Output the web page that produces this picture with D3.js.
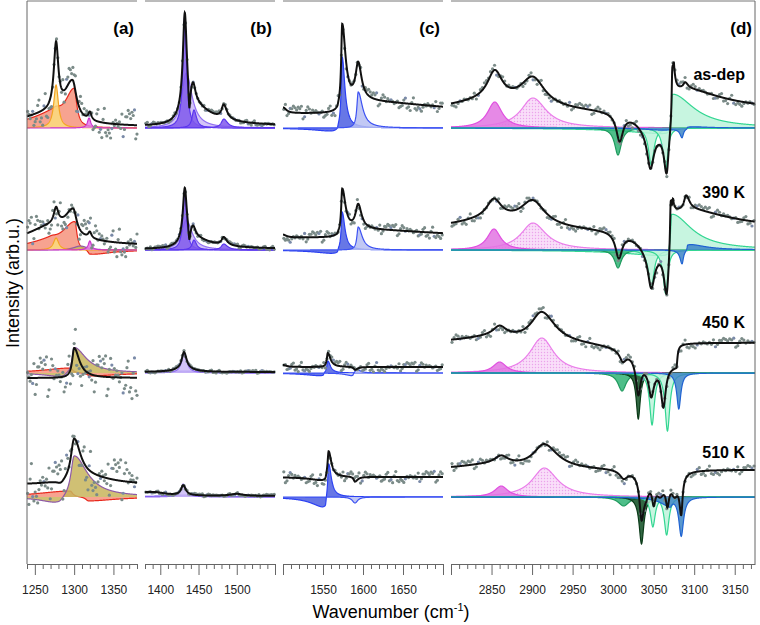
<!DOCTYPE html>
<html>
<head>
<meta charset="utf-8">
<script src="https://cdn.jsdelivr.net/npm/d3@7"></script>
<style>
body { margin: 0; background: #fff; }
svg { font-family: "Liberation Sans", Arial, sans-serif; }
.axis path, .axis line { stroke: #666; }
.axis text { font-size: 12px; fill: #222; }
</style>
</head>
<body>
<div id="chart"></div>
<script>
// panels and rows
var panelNames = ["(a)", "(b)", "(c)", "(d)"];
var panelDomains = [[1240, 1380], [1380, 1550], [1500, 1700], [2800, 3175]];
var panelTicks = [[1250, 1300, 1350], [1400, 1450, 1500], [1550, 1600, 1650],
    [2850, 2900, 2950, 3000, 3050, 3100, 3150]];
var rowNames = ["as-dep", "390 K", "450 K", "510 K"];

// fitted components: [row, component, centre, left width, right width, amplitude]
var compA = [
    [0, "salmon", 1275, 40, 10, 12], [0, "salmon", 1300, 14, 4, 38],
    [0, "yellow", 1277, 3.5, 3.5, 43], [0, "magenta", 1319, 2.5, 2.5, 10],
    [1, "salmon", 1270, 40, 10, 6], [1, "salmon", 1301, 20, 3, 28], [1, "salmon", 1320, 3, 30, -5],
    [1, "khaki", 1308, 10, 10, 4], [1, "yellow", 1277, 4, 4, 12], [1, "magenta", 1320, 2.5, 2.5, 9],
    [2, "salmon", 1295, 40, 4, 5], [2, "salmon", 1320, 4, 40, -3],
    [2, "khaki", 1300, 3, 18, 26], [2, "khaki", 1285, 25, 6, -4],
    [3, "salmon", 1295, 50, 4, 6], [3, "salmon", 1318, 4, 40, -4],
    [3, "khaki", 1300, 5, 20, 42], [3, "khaki", 1280, 25, 8, -7]
];
var compB = [
    [0, "lavender", 1434, 7, 9, 55], [0, "violet", 1432, 2.8, 2.8, 112],
    [0, "violet2", 1444, 3, 4, 18], [0, "violet3", 1483, 4, 6, 9],
    [1, "lavender", 1434, 7, 9, 30], [1, "violet", 1432, 2.8, 2.8, 60],
    [1, "violet2", 1444, 3, 4, 10], [1, "violet3", 1483, 4, 6, 6],
    [2, "violet", 1431, 25, 25, 2], [2, "lavender", 1431, 4, 4.5, 19],
    [3, "violet", 1430, 30, 30, 2], [3, "lavender", 1430, 4, 4.5, 13]
];
var compC = [
    [0, "blue", 1574, 1.5, 4, 71], [0, "blue", 1568, 30, 1, -4], [0, "lightblue", 1594, 2, 6.4, 36],
    [1, "blue", 1574, 1.5, 4, 38], [1, "blue", 1568, 30, 1, -4], [1, "lightblue", 1594, 2, 6, 23],
    [2, "blue", 1556, 1.5, 4, 12], [2, "blue", 1550, 25, 1.2, -3],
    [2, "lightblue", 1592, 2, 5, 4], [2, "lightblue", 1587, 10, 1.2, -3],
    [3, "blue", 1557, 1.2, 4, 34], [3, "blue", 1553, 20, 1.2, -11], [3, "lightblue", 1590, 4, 4, -6]
];
var compD = [
    [0, "lightpink", 2901, 18, 20, 30], [0, "pink", 2854, 11, 11, 26],
    [0, "mint3", 3073, 1.2, 32, 34], [0, "mint3", 3069, 60, 1, -6],
    [0, "green", 3006, 5, 5, -27], [0, "mint1", 3047, 4, 4, -37], [0, "mint2", 3065, 4, 3, -42],
    [0, "steel", 3085, 3, 2, -9], [0, "steel", 3060, 25, 20, -2], [0, "steel", 3092, 1, 25, 2],
    [1, "lightpink", 2901, 18, 20, 27], [1, "pink", 2853, 10, 10, 21],
    [1, "mint3", 3072, 1.2, 30, 36], [1, "mint3", 3068, 60, 1, -6],
    [1, "green", 3006, 5, 5, -18], [1, "mint1", 3047, 4, 4, -38], [1, "mint2", 3065, 4, 3, -44],
    [1, "steel", 3085, 3, 2, -14], [1, "steel", 3092, 1, 25, 6],
    [2, "lightpink", 2912, 18, 18, 35], [2, "pink", 2860, 10, 10, 11],
    [2, "green", 3011, 6, 6, -18], [2, "darkgreen", 3031, 3, 3, -46],
    [2, "mint1", 3048, 3.5, 3.5, -52], [2, "mint2", 3067, 3.5, 3.5, -58], [2, "steel", 3081, 3, 3, -36],
    [3, "lightpink", 2915, 18, 20, 29], [3, "pink", 2862, 10, 10, 11],
    [3, "green", 3013, 8, 8, -9], [3, "darkgreen", 3035, 3.5, 3.5, -47],
    [3, "mint1", 3049, 3.5, 3.5, -30], [3, "mint2", 3066, 3.5, 3.5, -38],
    [3, "steel", 3084, 3.5, 3.5, -39], [3, "steel", 3070, 15, 3, -8]
];

// total fit (black line): [row, centre, left width, right width, amplitude]
var fitA = [
    [0, 1277, 3.5, 3.5, 66], [0, 1298, 12, 6, 38], [0, 1320, 2.5, 2.5, 8], [0, 1265, 45, 45, 11],
    [1, 1277, 3.5, 3.5, 16], [1, 1299, 12, 5, 25], [1, 1320, 2.5, 2.5, 6], [1, 1270, 40, 40, 18],
    [2, 1300, 3, 8, 30],
    [3, 1300, 5, 10, 42], [3, 1320, 40, 40, 6], [3, 1283, 6, 6, -4]
];
var fitB = [
    [0, 1432, 3, 3, 92], [0, 1443, 3.5, 3.5, 16], [0, 1436, 10, 30, 25], [0, 1438, 1.5, 1.5, -30], [0, 1483, 3.5, 5, 14],
    [1, 1432, 3, 3, 50], [1, 1443, 3.5, 3.5, 9], [1, 1436, 10, 30, 13], [1, 1438, 1.5, 1.5, -16], [1, 1483, 3.5, 5, 8],
    [2, 1431, 3.5, 4, 17], [2, 1431, 15, 15, 3],
    [3, 1430, 3.5, 4, 10], [3, 1390, 40, 20, 4], [3, 1500, 10, 10, 2]
];
var fitC = [
    [0, 1574, 1.5, 5, 82], [0, 1594, 4, 5, 36], [0, 1600, 30, 120, 12], [0, 1500, 40, 5, 6], [0, 1568, 30, 1, -3],
    [1, 1574, 1.5, 5, 44], [1, 1594, 4, 5, 24], [1, 1600, 30, 120, 8], [1, 1500, 40, 5, 3], [1, 1568, 30, 1, -2],
    [2, 1556, 1.5, 4, 14], [2, 1590, 2, 4, -3], [2, 1500, 40, 5, 2],
    [3, 1557, 1.5, 4, 26], [3, 1590, 2, 4, -5], [3, 1553, 20, 1.2, -4]
];
var fitD = [
    [0, 2854, 11, 11, 28], [0, 2901, 18, 18, 28], [0, 2850, 60, 60, 10], [0, 3008, 5, 5, -27],
    [0, 3040, 15, 15, -6], [0, 3055, 20, 20, -16], [0, 3046, 5, 5, -36], [0, 3066, 4, 3, -46],
    [0, 3069, 60, 1, -3], [0, 3073, 1, 2.5, 55], [0, 3075, 1, 60, 28], [0, 3089, 3, 4, 6],
    [1, 2853, 11, 11, 19], [1, 2901, 18, 18, 24], [1, 2850, 60, 60, 10], [1, 3007, 5, 5, -25],
    [1, 3040, 15, 15, -6], [1, 3055, 20, 20, -16], [1, 3047, 5, 5, -36], [1, 3066, 4, 3, -48],
    [1, 3068, 60, 1, -3], [1, 3071, 1, 2.5, 50], [1, 3074, 1, 70, 26], [1, 3090, 3, 5, 14],
    [2, 2850, 50, 50, 6], [2, 2860, 10, 10, 10], [2, 2912, 16, 20, 30], [2, 3012, 5, 5, -10],
    [2, 3031, 3.5, 3.5, -34], [2, 3047, 3.5, 3.5, -24], [2, 3062, 3.5, 3.5, -40],
    [2, 3048, 20, 10, -14], [2, 3078, 40, 1.5, -22],
    [3, 2850, 50, 50, 5], [3, 2862, 10, 10, 8], [3, 2915, 16, 20, 24], [3, 3013, 6, 6, -8],
    [3, 3040, 6, 6, -20], [3, 3058, 7, 7, -20], [3, 3076, 6, 6, -20],
    [3, 3035, 3, 3, -36], [3, 3050, 2.5, 2.5, -20], [3, 3067, 2.5, 2.5, -22], [3, 3084, 2.5, 2, -36]
];
var offsetA = [1, 4, -5, 12];
var offsetB = [2, 1, 1, 1];
var offsetC = [14, 12, 6, 20];
var offsetD = [17, 20, 30, 27];

// scatter of the measured points around the fit
var noiseA = [16, 15, 22, 22];
var noiseB = [2.5, 2, 1.5, 1.5];
var noiseC = [7, 6, 5, 6];
var noiseD = [5, 5, 5, 5];
var resid = [0.3, -0.8, 0.5, 0.1, -0.4, 0.9, -0.2, -0.6, 0.7, 0.0, -0.9, 0.4, 0.2, -0.3, 0.8, -0.7,
    0.1, 0.6, -0.5, -0.1, 0.95, -0.35, 0.25, -0.85, 0.45, 0.05, -0.55, 0.75, -0.15, 0.35, -0.65,
    0.15, 0.85, -0.45, -0.25, 0.55, -0.95, 0.65, -0.05, 0.2, -0.75, 0.4, 0.9, -0.3, 0.1, -0.6, 0.5];

var colors = {
    salmon: ["#f6937d", "#e8281c"], yellow: ["#fadc7e", "#f4a323"], magenta: ["#e27ae6", "#cc33cc"],
    khaki: ["#c8b55c", "#8e5aa6"], lavender: ["#cdbbf7", "#9270f2"], violet: ["#7f58ec", "#5b36ef"],
    blue: ["#4c5fe2", "#2b40f2"], lightblue: ["#b6bef2", "#3d52f2"], pink: ["#e274e2", "#e050e0"],
    lightpink: ["url(#stipple)", "#ea7eea"], green: ["#2fb374", "#1f9a5e"], mint: ["#bdf3da", "#33d692"],
    darkgreen: ["#0e4d22", "#0a3a18"], steel: ["#3d86c6", "#1f62d2"]
};

// layout
var panelPx = [[27, 137], [145, 275], [283, 443], [451, 755]];
var rowBase = [128, 250, 373, 497];
var axisY = 564;
var dotStep = [1.6, 2, 2, 2.5];

var compAll = [compA, compB, compC, compD];
var fitAll = [fitA, fitB, fitC, fitD];
var offAll = [offsetA, offsetB, offsetC, offsetD];
var noiseAll = [noiseA, noiseB, noiseC, noiseD];

function shape(peaks, wn) {
    var s = 0;
    peaks.forEach(function(p) {
        var e = (wn - p[0]) / (wn < p[0] ? p[1] : p[2]);
        s += p[3] / (1 + e * e);
    });
    return s;
}

var svg = d3.select("#chart").append("svg")
    .attr("width", 760)
    .attr("height", 625);

var pat = svg.append("defs").append("pattern")
    .attr("id", "stipple")
    .attr("width", 3).attr("height", 3)
    .attr("patternUnits", "userSpaceOnUse");
pat.append("rect").attr("width", 3).attr("height", 3).attr("fill", "#f8d8f8");
pat.append("circle").attr("cx", 1.5).attr("cy", 1.5).attr("r", 0.7).attr("fill", "#e893e8");

panelDomains.forEach(function(dom, i) {
    var x = d3.scaleLinear().domain(dom).range(panelPx[i]);
    var samples = d3.range(dom[0], dom[1] + 0.001, 0.25);
    var g = svg.append("g");

    rowNames.forEach(function(rn, r) {
        var y = d3.scaleLinear().domain([0, 100]).range([rowBase[r], rowBase[r] - 100]);
        var rowComps = compAll[i].filter(function(c) { return c[0] === r; });
        var names = [];
        rowComps.forEach(function(c) { if (names.indexOf(c[1]) < 0) names.push(c[1]); });

        names.forEach(function(name) {
            var peaks = rowComps.filter(function(c) { return c[1] === name; })
                .map(function(c) { return c.slice(2); });
            var pts = samples.map(function(w) { return [w, shape(peaks, w)]; });
            var col = colors[name.replace(/\d+$/, "")];
            var area = d3.area()
                .x(function(d) { return x(d[0]); })
                .y0(y(0))
                .y1(function(d) { return y(d[1]); });
            var line = d3.line()
                .x(function(d) { return x(d[0]); })
                .y(function(d) { return y(d[1]); });
            g.append("path").attr("d", area(pts))
                .attr("fill", col[0]).attr("fill-opacity", 0.85);
            g.append("path").attr("d", line(pts))
                .attr("fill", "none").attr("stroke", col[1]).attr("stroke-width", 1.2);
        });

        var fitPeaks = fitAll[i].filter(function(c) { return c[0] === r; })
            .map(function(c) { return c.slice(1); });
        var off = offAll[i][r];
        var fitPts = samples.map(function(w) { return [w, off + shape(fitPeaks, w)]; });

        // measured points
        var dots = d3.range(dom[0] + dotStep[i] / 2, dom[1], dotStep[i]).map(function(w, k) {
            var n = resid[(k * 3 + r * 11 + i * 17) % resid.length];
            return [w, off + shape(fitPeaks, w) + noiseAll[i][r] * n];
        });
        g.selectAll(null).data(dots).enter().append("circle")
            .attr("cx", function(d) { return x(d[0]); })
            .attr("cy", function(d) { return y(d[1]); })
            .attr("r", 1.6)
            .attr("fill", function(d, k) { return k % 9 === 4 ? "#7a8aa8" : "#7b8b88"; });

        g.append("path")
            .attr("d", d3.line().x(function(d) { return x(d[0]); }).y(function(d) { return y(d[1]); })(fitPts))
            .attr("fill", "none").attr("stroke", "#111").attr("stroke-width", 2);
    });

    // frame pieces
    svg.append("line").attr("x1", panelPx[i][0]).attr("x2", panelPx[i][1])
        .attr("y1", 1).attr("y2", 1).attr("stroke", "#777");

    var minor = d3.range(Math.ceil(dom[0] / 10) * 10, dom[1] + 0.1, 10);
    var axis = d3.axisBottom(x)
        .tickValues(minor)
        .tickSizeOuter(0)
        .tickFormat(function(d) { return panelTicks[i].indexOf(d) >= 0 ? d : ""; });
    var ag = svg.append("g").attr("class", "axis")
        .attr("transform", "translate(0," + axisY + ")")
        .call(axis);
    ag.selectAll(".tick line").attr("y2", function(d) { return d % 50 === 0 ? 11 : 5; });
    ag.selectAll(".tick text").attr("y", 21);

    svg.append("text")
        .attr("x", panelPx[i][1] - 3).attr("y", 34)
        .attr("text-anchor", "end")
        .attr("font-size", 17).attr("font-weight", "bold")
        .text(panelNames[i]);
});

svg.append("line").attr("x1", 27).attr("x2", 27).attr("y1", 1).attr("y2", axisY).attr("stroke", "#666");
svg.append("line").attr("x1", 755).attr("x2", 755).attr("y1", 1).attr("y2", axisY).attr("stroke", "#666");

var rowLabelY = [80, 198, 328, 458];
rowNames.forEach(function(rn, r) {
    svg.append("text")
        .attr("x", 745).attr("y", rowLabelY[r])
        .attr("text-anchor", "end")
        .attr("font-size", 16).attr("font-weight", "bold")
        .text(rn);
});

svg.append("text")
    .attr("transform", "translate(19,283) rotate(-90)")
    .attr("text-anchor", "middle")
    .attr("font-size", 18)
    .text("Intensity (arb.u.)");

var xl = svg.append("text")
    .attr("x", 391).attr("y", 618)
    .attr("text-anchor", "middle")
    .attr("font-size", 18);
xl.append("tspan").text("Wavenumber (cm");
xl.append("tspan").attr("font-size", 11).attr("dy", -7).text("-1");
xl.append("tspan").attr("dy", 7).text(")");
</script>
</body>
</html>
